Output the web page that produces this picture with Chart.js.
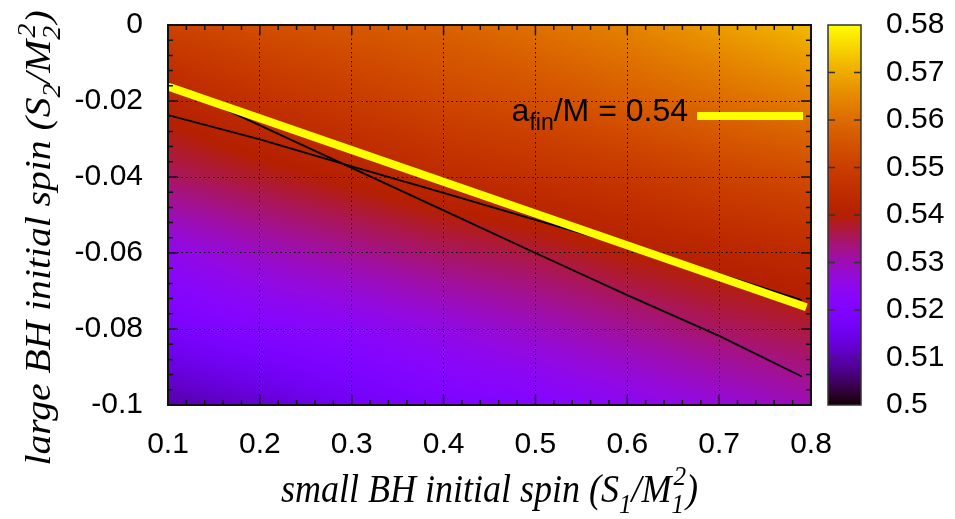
<!DOCTYPE html>
<html lang="en">
<head>
<meta charset="utf-8">
<title>Final spin of the merged black hole</title>
<script src="https://cdn.jsdelivr.net/npm/chart.js@4.4.1/dist/chart.umd.min.js"></script>
<style>
  html, body { margin: 0; padding: 0; background: #fff; }
  #wrap { width: 955px; height: 519px; }
</style>
</head>
<body>
<div id="wrap"><canvas id="spinMap" width="955" height="519"></canvas></div>
<script>
// sampling of the initial spins
const spinSmall = [0.1, 0.2, 0.3, 0.4, 0.5, 0.6, 0.7, 0.8];
const spinLarge = [0, -0.02, -0.04, -0.06, -0.08, -0.1];

// a_fin/M along spinSmall, one row for each spinLarge value
const afinS2m000 = [0.551, 0.554, 0.556, 0.558, 0.561, 0.564, 0.568, 0.572];
const afinS2m002 = [0.542, 0.546, 0.549, 0.552, 0.554, 0.557, 0.560, 0.563];
const afinS2m004 = [0.535, 0.538, 0.541, 0.544, 0.546, 0.548, 0.551, 0.553];
const afinS2m006 = [0.525, 0.529, 0.532, 0.535, 0.537, 0.540, 0.542, 0.544];
const afinS2m008 = [0.518, 0.521, 0.523, 0.526, 0.529, 0.532, 0.535, 0.537];
const afinS2m010 = [0.509, 0.512, 0.516, 0.519, 0.521, 0.524, 0.527, 0.530];
const afinRows = [afinS2m000, afinS2m002, afinS2m004, afinS2m006, afinS2m008, afinS2m010];

// the a_fin/M = 0.54 level line
const levelX = [0.1, 0.795];
const levelY = [-0.0162, -0.0743];

// the two thin black curves
const curveAX = [0.1, 0.2, 0.3, 0.4, 0.5, 0.6, 0.7, 0.79];
const curveAY = [-0.0152, -0.0264, -0.0376, -0.0488, -0.0600, -0.0711, -0.0818, -0.0925];
const curveBX = [0.1, 0.2, 0.3, 0.4, 0.5, 0.6, 0.7, 0.79];
const curveBY = [-0.0237, -0.0301, -0.0372, -0.0442, -0.0513, -0.0583, -0.0655, -0.0724];

// colour box range
const cbMin = 0.5;
const cbMax = 0.58;
const cbStep = 0.01;

const sansFam = '"Liberation Sans", Arial, Helvetica, sans-serif';
const serifFam = '"Liberation Serif", "Times New Roman", serif';
const tickFont = { family: sansFam, size: 30 };

// gnuplot default pm3d palette (rgbformulae 7,5,15)
function paletteRGB(v) {
  let t = (v - cbMin) / (cbMax - cbMin);
  t = Math.min(1, Math.max(0, t));
  const r = Math.sqrt(t);
  const g = t * t * t;
  const b = Math.max(0, Math.sin(2 * Math.PI * t));
  return [Math.round(r * 255), Math.round(g * 255), Math.round(b * 255)];
}

function clamp01(t) { return Math.min(1, Math.max(0, t)); }

// bilinear shading between grid samples, like pm3d interpolate
function shadeAt(xv, yv) {
  let i = 0;
  while (i < spinSmall.length - 2 && xv > spinSmall[i + 1]) i++;
  let j = 0;
  while (j < spinLarge.length - 2 && yv < spinLarge[j + 1]) j++;
  const tx = clamp01((xv - spinSmall[i]) / (spinSmall[i + 1] - spinSmall[i]));
  const ty = clamp01((yv - spinLarge[j]) / (spinLarge[j + 1] - spinLarge[j]));
  const r0 = afinRows[j], r1 = afinRows[j + 1];
  const top = r0[i] * (1 - tx) + r0[i + 1] * tx;
  const bot = r1[i] * (1 - tx) + r1[i + 1] * tx;
  return top * (1 - ty) + bot * ty;
}

// text with sub/superscripts; parts are {t} or {sub, sup}
function drawRich(ctx, parts, x, y, o) {
  const small = o.size * o.subScale;
  const fnt = s => `${o.style} ${s}px ${o.fam}`;
  let w = 0;
  for (const p of parts) {
    if (p.t) { ctx.font = fnt(o.size); w += ctx.measureText(p.t).width; }
    else {
      ctx.font = fnt(small);
      w += Math.max(p.sub ? ctx.measureText(p.sub).width : 0, p.sup ? ctx.measureText(p.sup).width + 2 : 0);
    }
  }
  ctx.save();
  ctx.translate(x, y);
  ctx.scale(o.sx || 1, o.sy || 1);
  let cx = o.align === 'center' ? -w / 2 : (o.align === 'right' ? -w : 0);
  ctx.textAlign = 'left';
  ctx.textBaseline = 'alphabetic';
  for (const p of parts) {
    if (p.t) {
      ctx.font = fnt(o.size);
      ctx.fillText(p.t, cx, 0);
      cx += ctx.measureText(p.t).width;
    } else {
      ctx.font = fnt(small);
      let adv = 0;
      if (p.sub) { ctx.fillText(p.sub, cx, o.size * 0.28); adv = ctx.measureText(p.sub).width; }
      if (p.sup) { ctx.fillText(p.sup, cx + 2, -o.size * 0.42); adv = Math.max(adv, ctx.measureText(p.sup).width + 2); }
      cx += adv;
    }
  }
  ctx.restore();
}

const xTitle = [{ t: 'small BH initial spin (S' }, { sub: '1' }, { t: '/M' }, { sub: '1', sup: '2' }, { t: ')' }];
const yTitle = [{ t: 'large BH initial spin (S' }, { sub: '2' }, { t: '/M' }, { sub: '2', sup: '2' }, { t: ')' }];
const keyText = [{ t: 'a' }, { sub: 'fin' }, { t: '/M = 0.54' }];

const mapPlugin = {
  id: 'afinMap',
  beforeDraw(chart) {
    const { ctx, chartArea: a, scales } = chart;
    const w = Math.round(a.right - a.left);
    const h = Math.round(a.bottom - a.top);
    const off = document.createElement('canvas');
    off.width = w; off.height = h;
    const octx = off.getContext('2d');
    const img = octx.createImageData(w, h);
    const xs = [];
    for (let px = 0; px < w; px++) xs.push(scales.x.getValueForPixel(a.left + px + 0.5));
    for (let py = 0; py < h; py++) {
      const yv = scales.y.getValueForPixel(a.top + py + 0.5);
      for (let px = 0; px < w; px++) {
        const c = paletteRGB(shadeAt(xs[px], yv));
        const k = (py * w + px) * 4;
        img.data[k] = c[0]; img.data[k + 1] = c[1]; img.data[k + 2] = c[2]; img.data[k + 3] = 255;
      }
    }
    octx.putImageData(img, 0, 0);
    ctx.drawImage(off, a.left, a.top);

    // colour box
    const cb = scales.cb;
    const bx = a.right + 17, bw = 33;
    for (let py = Math.round(cb.top); py < Math.round(cb.bottom); py++) {
      const c = paletteRGB(cb.getValueForPixel(py + 0.5));
      ctx.fillStyle = `rgb(${c[0]},${c[1]},${c[2]})`;
      ctx.fillRect(bx, py, bw, 1);
    }
  },
  afterDraw(chart) {
    const { ctx, chartArea: a, scales } = chart;
    ctx.save();
    ctx.strokeStyle = '#111';

    // inward major and minor tick marks on all four sides
    ctx.lineWidth = 1.5;
    const sx = scales.x, sy = scales.y;
    const xt = sx.ticks.map(t => t.value);
    const yt = sy.ticks.map(t => t.value);
    ctx.beginPath();
    for (let i = 0; i < xt.length; i++) {
      const p = sx.getPixelForValue(xt[i]);
      ctx.moveTo(p, a.bottom); ctx.lineTo(p, a.bottom - 10);
      ctx.moveTo(p, a.top); ctx.lineTo(p, a.top + 10);
      if (i < xt.length - 1) {
        for (let m = 1; m < 5; m++) {
          const q = sx.getPixelForValue(xt[i] + (xt[i + 1] - xt[i]) * m / 5);
          ctx.moveTo(q, a.bottom); ctx.lineTo(q, a.bottom - 5);
          ctx.moveTo(q, a.top); ctx.lineTo(q, a.top + 5);
        }
      }
    }
    for (let i = 0; i < yt.length; i++) {
      const p = sy.getPixelForValue(yt[i]);
      ctx.moveTo(a.left, p); ctx.lineTo(a.left + 10, p);
      ctx.moveTo(a.right, p); ctx.lineTo(a.right - 10, p);
      if (i < yt.length - 1) {
        for (let m = 1; m < 5; m++) {
          const q = sy.getPixelForValue(yt[i] + (yt[i + 1] - yt[i]) * m / 5);
          ctx.moveTo(a.left, q); ctx.lineTo(a.left + 5, q);
          ctx.moveTo(a.right, q); ctx.lineTo(a.right - 5, q);
        }
      }
    }
    ctx.stroke();

    // plot frame
    ctx.lineWidth = 2;
    ctx.strokeRect(a.left, a.top, a.right - a.left, a.bottom - a.top);

    // colour box frame and ticks
    const cb = scales.cb;
    const bx = a.right + 17, bw = 33;
    ctx.lineWidth = 1.5;
    ctx.strokeStyle = '#333';
    ctx.strokeRect(bx, cb.top, bw, cb.bottom - cb.top);
    ctx.beginPath();
    cb.ticks.forEach((t, i) => {
      if (i === 0 || i === cb.ticks.length - 1) return;
      const p = cb.getPixelForValue(t.value);
      ctx.moveTo(bx, p); ctx.lineTo(bx + 7, p);
      ctx.moveTo(bx + bw, p); ctx.lineTo(bx + bw - 7, p);
    });
    ctx.stroke();

    // key: label and sample of the level line
    ctx.fillStyle = '#000';
    drawRich(ctx, keyText, a.right - 123, a.top + 96,
      { size: 32, fam: sansFam, style: 'normal', align: 'right', subScale: 0.72 });
    ctx.strokeStyle = '#ffff00';
    ctx.lineWidth = 8;
    ctx.beginPath();
    ctx.moveTo(a.right - 114, a.top + 91);
    ctx.lineTo(a.right - 8, a.top + 91);
    ctx.stroke();

    // axis titles
    ctx.fillStyle = '#000';
    drawRich(ctx, xTitle, (a.left + a.right) / 2, 502,
      { size: 36, fam: serifFam, style: 'italic', align: 'center', subScale: 0.7, sy: 1.1 });
    ctx.translate(50, (a.top + a.bottom) / 2 + 23);
    ctx.rotate(-Math.PI / 2);
    drawRich(ctx, yTitle, 0, 0,
      { size: 36, fam: serifFam, style: 'italic', align: 'center', subScale: 0.7, sx: 1.1 });
    ctx.restore();
  }
};

function toPoints(xs, ys) { return xs.map((x, i) => ({ x: x, y: ys[i] })); }

// hide grid lines that would sit on the frame
const innerGrid = c => (c.index === 0 || c.index === c.scale.ticks.length - 1) ? 'rgba(0,0,0,0)' : '#000';
// plain number labels: 0, -0.1, 0.5
const plainLabel = v => String(parseFloat(Number(v).toFixed(4)));
// keep label padding from pushing the plot area down
const noEdgePad = s => { s.paddingTop = 0; s.paddingBottom = 0; };

new Chart(document.getElementById('spinMap'), {
  type: 'scatter',
  data: {
    datasets: [
      {
        label: 'a_fin/M = 0.54',
        data: toPoints(levelX, levelY),
        showLine: true, borderColor: '#ffff00', borderWidth: 8,
        pointRadius: 0, clip: 0
      },
      {
        label: 'curve A',
        data: toPoints(curveAX, curveAY),
        showLine: true, borderColor: '#000', borderWidth: 1.8,
        pointRadius: 0, clip: 0
      },
      {
        label: 'curve B',
        data: toPoints(curveBX, curveBY),
        showLine: true, borderColor: '#000', borderWidth: 1.8,
        pointRadius: 0, clip: 0
      }
    ]
  },
  options: {
    responsive: false,
    animation: false,
    events: [],
    layout: { padding: { top: 25, left: 0, right: 0, bottom: 0 } },
    plugins: { legend: { display: false }, tooltip: { enabled: false } },
    scales: {
      x: {
        type: 'linear', position: 'bottom', min: 0.1, max: 0.8,
        ticks: { stepSize: 0.1, font: tickFont, color: '#000', padding: 22, maxRotation: 0, autoSkip: false, callback: plainLabel },
        grid: { color: innerGrid, lineWidth: 1, drawTicks: false },
        border: { display: false, dash: [1.5, 3] },
        afterFit: s => { s.height = 114; }
      },
      y: {
        type: 'linear', position: 'left', min: -0.1, max: 0,
        ticks: { stepSize: 0.02, font: tickFont, color: '#000', padding: 25, autoSkip: false, callback: plainLabel },
        grid: { color: innerGrid, lineWidth: 1, drawTicks: false },
        border: { display: false, dash: [1.5, 3] },
        afterFit: s => { s.width = 168; noEdgePad(s); }
      },
      cb: {
        type: 'linear', position: 'right', min: cbMin, max: cbMax,
        ticks: { stepSize: cbStep, font: tickFont, color: '#000', padding: 75, autoSkip: false, callback: plainLabel },
        grid: { display: false, drawTicks: false },
        border: { display: false },
        afterFit: s => { s.width = 144; noEdgePad(s); }
      }
    }
  },
  plugins: [mapPlugin]
});
</script>
</body>
</html>
